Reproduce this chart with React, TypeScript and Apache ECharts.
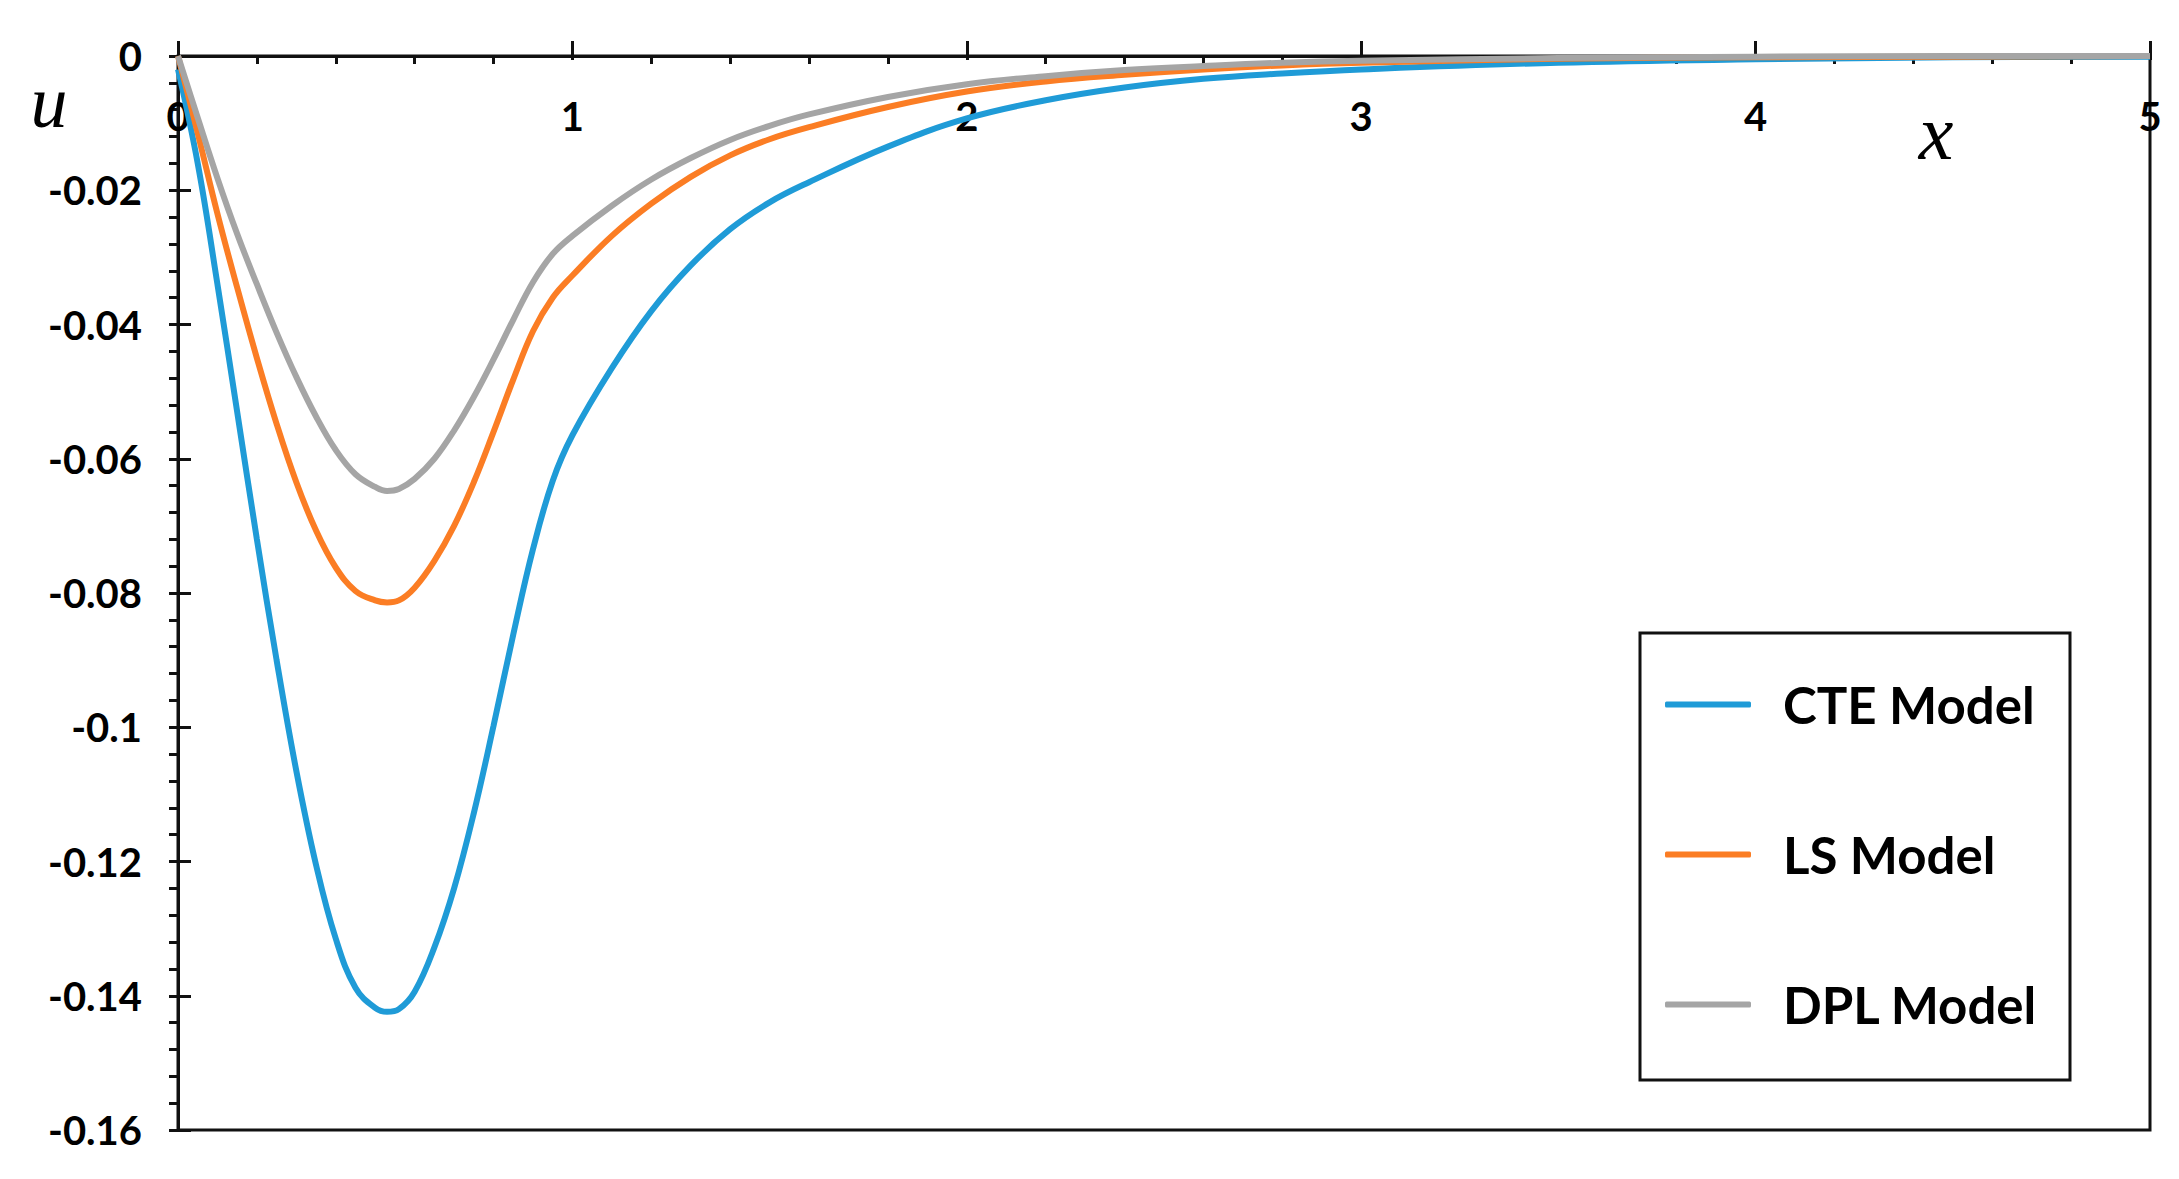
import React, { useEffect, useRef } from "react";
import * as echarts from "echarts";

const xValues = [
  0, 0.05, 0.1, 0.15, 0.2, 0.25, 0.3, 0.35, 0.4, 0.45, 0.5, 0.53, 0.56, 0.6, 0.65, 0.7, 0.75, 0.8, 0.85, 0.9, 0.95,
  1.0, 1.1, 1.2, 1.3, 1.4, 1.5, 1.6, 1.8, 2.0, 2.2, 2.4, 2.6, 2.8, 3.0, 3.5, 4.0, 4.5, 5.0,
];

const cteValues = [
  -0.002, -0.016, -0.034, -0.053, -0.072, -0.09, -0.1065, -0.1205, -0.1315, -0.1388, -0.1418, -0.1424, -0.142,
  -0.1394, -0.1328, -0.124, -0.1128, -0.0998, -0.0862, -0.0735, -0.0633,
  -0.0565, -0.0465, -0.038, -0.0312, -0.0258, -0.0218, -0.0188, -0.0135, -0.0093, -0.0066, -0.0047, -0.0034, -0.0026,
  -0.002, -0.001, -0.0005, -0.0002, -0.0001,
];

const lsValues = [
  0, -0.0115, -0.0235, -0.0345, -0.045, -0.0548, -0.0635, -0.0707, -0.0762, -0.0797, -0.0811, -0.0814, -0.0811,
  -0.0792, -0.0752, -0.07, -0.0635, -0.056, -0.0482, -0.041, -0.036,
  -0.0327, -0.0268, -0.022, -0.018, -0.0148, -0.0124, -0.0106, -0.0076, -0.0053, -0.0038, -0.0028, -0.002, -0.0014,
  -0.001, -0.0004, -0.0002, -0.0001, 0,
];

const dplValues = [
  0, -0.0092, -0.0182, -0.0265, -0.034, -0.0412, -0.0478, -0.0537, -0.0587, -0.0623, -0.0642, -0.0648, -0.0645,
  -0.063, -0.06, -0.0558, -0.0508, -0.0452, -0.0393, -0.0337, -0.0295,
  -0.0268, -0.0223, -0.0184, -0.0152, -0.0125, -0.0104, -0.0087, -0.0061, -0.0042, -0.003, -0.0021, -0.0015, -0.001,
  -0.0007, -0.0003, -0.0001, 0, 0,
];

const seriesNames = ["CTE Model", "LS Model", "DPL Model"];
const seriesColors = ["#1f9bd7", "#fb7d24", "#a5a5a5"];
const xAxisName = "x";
const yAxisName = "u";

const AXIS_COLOR = "#111";
const LABEL_FONT = "Lato";

export default function App() {
  const ref = useRef<HTMLDivElement>(null);

  useEffect(() => {
    if (!ref.current) return;
    const chart = echarts.init(ref.current, null, { renderer: "svg" });
    const pairs = (ys: number[]) => xValues.map((x, i) => [x, ys[i]]);
    const allValues = [cteValues, lsValues, dplValues];

    const tickLine = { color: AXIS_COLOR, width: 3 };

    chart.setOption({
      animation: false,
      backgroundColor: "#ffffff",
      textStyle: { fontFamily: LABEL_FONT },
      grid: {
        left: 178,
        right: 29,
        top: 56,
        bottom: 49,
        show: true,
        borderColor: AXIS_COLOR,
        borderWidth: 3,
        backgroundColor: "transparent",
      },
      xAxis: [
        {
          type: "value",
          position: "top",
          min: 0,
          max: 5,
          interval: 1,
          axisLine: { show: true, onZero: false, lineStyle: tickLine },
          axisTick: { show: true, inside: false, length: 15, lineStyle: tickLine },
          minorTick: { show: false },
          splitLine: { show: false },
          axisLabel: {
            inside: true,
            margin: 40,
            color: "#000",
            fontSize: 40,
            fontWeight: "bold",
            fontFamily: LABEL_FONT,
          },
        },
        {
          type: "value",
          position: "top",
          min: 0,
          max: 5,
          interval: 1,
          axisLine: { show: false, onZero: false },
          axisTick: { show: true, inside: true, length: 4, lineStyle: tickLine },
          minorTick: { show: true, splitNumber: 5, length: 8, lineStyle: tickLine },
          splitLine: { show: false },
          minorSplitLine: { show: false },
          axisLabel: { show: false },
        },
      ],
      yAxis: [
        {
          type: "value",
          position: "left",
          min: -0.16,
          max: 0,
          interval: 0.02,
          axisLine: { show: true, onZero: false, lineStyle: tickLine },
          axisTick: { show: true, inside: false, length: 9, lineStyle: tickLine },
          minorTick: { show: true, splitNumber: 5, length: 9, lineStyle: tickLine },
          splitLine: { show: false },
          minorSplitLine: { show: false },
          axisLabel: {
            margin: 36,
            color: "#000",
            fontSize: 40,
            fontWeight: "bold",
            fontFamily: LABEL_FONT,
          },
        },
        {
          type: "value",
          position: "left",
          min: -0.16,
          max: 0,
          interval: 0.02,
          axisLine: { show: false, onZero: false },
          axisTick: { show: true, inside: true, length: 13, lineStyle: tickLine },
          splitLine: { show: false },
          axisLabel: { show: false },
        },
      ],
      legend: {
        orient: "vertical",
        left: 1665,
        top: 679,
        padding: 0,
        itemWidth: 86,
        itemHeight: 6,
        itemGap: 99,
        icon: "roundRect",
        data: seriesNames,
        textStyle: {
          fontSize: 51,
          lineHeight: 50,
          fontWeight: "bold",
          fontFamily: LABEL_FONT,
          color: "#000",
          padding: [0, 0, 0, 27],
        },
      },
      graphic: [
        {
          type: "rect",
          shape: { x: 1640, y: 633, width: 430, height: 447 },
          style: { fill: "none", stroke: AXIS_COLOR, lineWidth: 3 },
          z: 10,
        },
        {
          type: "text",
          x: 49,
          y: 102,
          style: {
            text: yAxisName,
            font: 'italic 74px "Liberation Serif"',
            fill: "#000",
            align: "center",
            verticalAlign: "middle",
          },
        },
        {
          type: "text",
          x: 1936,
          y: 132,
          style: {
            text: xAxisName,
            font: 'italic 78px "Liberation Serif"',
            fill: "#000",
            align: "center",
            verticalAlign: "middle",
          },
        },
      ],
      series: seriesNames.map((name, i) => ({
        name,
        type: "line",
        xAxisIndex: 0,
        yAxisIndex: 0,
        data: pairs(allValues[i]),
        smooth: 0.4,
        showSymbol: false,
        symbol: "none",
        lineStyle: { color: seriesColors[i], width: 6 },
        itemStyle: { color: seriesColors[i] },
      })),
    });

    return () => chart.dispose();
  }, []);

  return (
    <div
      ref={ref}
      style={{ position: "fixed", left: 0, top: 0, width: 2179, height: 1179, background: "#fff" }}
    />
  );
}
